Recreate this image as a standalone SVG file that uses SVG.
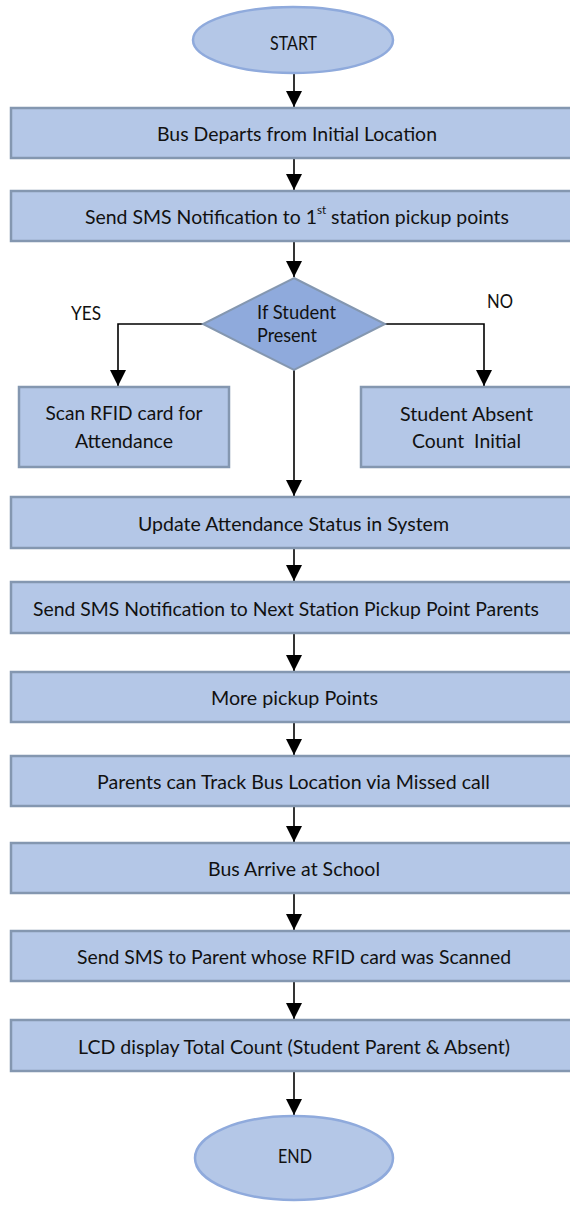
<svg xmlns="http://www.w3.org/2000/svg" width="570" height="1207" viewBox="0 0 570 1207">
<style>
.box{fill:#B4C7E7;stroke:#8497B0;stroke-width:2.5}
.term{fill:#B4C7E7;stroke:#8FAADC;stroke-width:2.5}
.dec{fill:#8FAADC;stroke:#8497B0;stroke-width:2}
.t{font-family:Lato,"Open Sans",sans-serif;font-size:20px;fill:#111;text-anchor:middle;dominant-baseline:central}
.tl{font-family:Lato,"Open Sans",sans-serif;font-size:20px;fill:#111;dominant-baseline:central}
.c{fill:none;stroke:#000;stroke-width:1.6}
</style>
<defs>
<marker id="ah" markerUnits="userSpaceOnUse" markerWidth="16" markerHeight="17" refX="16" refY="8" orient="auto">
<path d="M0,0 L16,8 L0,16 Z" fill="#000"/>
</marker>
</defs>
<g id="connectors">
<path class="c" d="M294,73 V107" marker-end="url(#ah)"/>
<path class="c" d="M294,159 V190" marker-end="url(#ah)"/>
<path class="c" d="M294,242 V277" marker-end="url(#ah)"/>
<path class="c" d="M203,324 H118 V386" marker-end="url(#ah)"/>
<path class="c" d="M385,324 H484 V386" marker-end="url(#ah)"/>
<path class="c" d="M294,370 V496" marker-end="url(#ah)"/>
<path class="c" d="M294,549 V581" marker-end="url(#ah)"/>
<path class="c" d="M294,634 V671" marker-end="url(#ah)"/>
<path class="c" d="M294,723 V755" marker-end="url(#ah)"/>
<path class="c" d="M294,807 V842" marker-end="url(#ah)"/>
<path class="c" d="M294,894 V930" marker-end="url(#ah)"/>
<path class="c" d="M294,982 V1019" marker-end="url(#ah)"/>
<path class="c" d="M294,1072 V1115" marker-end="url(#ah)"/>
<text class="t" x="86" y="312" textLength="30" lengthAdjust="spacingAndGlyphs">YES</text>
<text class="t" x="500" y="300" textLength="26" lengthAdjust="spacingAndGlyphs">NO</text>
</g>
<g id="start">
<ellipse class="term" cx="293" cy="40" rx="100" ry="33"/>
<text class="t" x="293.5" y="42" textLength="47" lengthAdjust="spacingAndGlyphs">START</text>
</g>
<g id="n1">
<rect class="box" x="11" y="108" width="570" height="50"/>
<text class="t" x="297" y="133" textLength="280" lengthAdjust="spacingAndGlyphs">Bus Departs from Initial Location</text>
</g>
<g id="n2">
<rect class="box" x="11" y="191" width="570" height="50"/>
<text class="tl" x="85" y="216" textLength="424" lengthAdjust="spacingAndGlyphs">Send SMS Notification to 1<tspan font-size="12" dy="-7">st</tspan><tspan dy="7"> station pickup points</tspan></text>
</g>
<g id="decision">
<polygon class="dec" points="294,278 385,324 294,370 203,324"/>
<text class="tl" x="257" y="311" textLength="79" lengthAdjust="spacingAndGlyphs">If Student</text>
<text class="tl" x="257" y="334" textLength="60" lengthAdjust="spacingAndGlyphs">Present</text>
</g>
<g id="scan">
<rect class="box" x="19" y="387" width="210" height="80"/>
<text class="t" x="124" y="412" textLength="157" lengthAdjust="spacingAndGlyphs">Scan RFID card for</text>
<text class="t" x="124" y="440" textLength="98" lengthAdjust="spacingAndGlyphs">Attendance</text>
</g>
<g id="absent">
<rect class="box" x="361" y="387" width="215" height="80"/>
<text class="t" x="466.5" y="413" textLength="133" lengthAdjust="spacingAndGlyphs">Student Absent</text>
<text class="t" x="466.5" y="440" textLength="109" lengthAdjust="spacingAndGlyphs" xml:space="preserve">Count  Initial</text>
</g>
<g id="n3">
<rect class="box" x="11" y="497" width="570" height="51"/>
<text class="t" x="293.5" y="522.5" textLength="311" lengthAdjust="spacingAndGlyphs">Update Attendance Status in System</text>
</g>
<g id="n4">
<rect class="box" x="11" y="582" width="570" height="51"/>
<text class="t" x="286" y="607.5" textLength="506" lengthAdjust="spacingAndGlyphs">Send SMS Notification to Next Station Pickup Point Parents</text>
</g>
<g id="n5">
<rect class="box" x="11" y="672" width="570" height="50"/>
<text class="t" x="294.5" y="697" textLength="167" lengthAdjust="spacingAndGlyphs">More pickup Points</text>
</g>
<g id="n6">
<rect class="box" x="11" y="756" width="570" height="50"/>
<text class="t" x="293.5" y="781" textLength="393" lengthAdjust="spacingAndGlyphs">Parents can Track Bus Location via Missed call</text>
</g>
<g id="n7">
<rect class="box" x="11" y="843" width="570" height="50"/>
<text class="t" x="294" y="868" textLength="172" lengthAdjust="spacingAndGlyphs">Bus Arrive at School</text>
</g>
<g id="n8">
<rect class="box" x="11" y="931" width="570" height="50"/>
<text class="t" x="294" y="956" textLength="434" lengthAdjust="spacingAndGlyphs">Send SMS to Parent whose RFID card was Scanned</text>
</g>
<g id="n9">
<rect class="box" x="11" y="1020" width="570" height="51"/>
<text class="t" x="294" y="1045.5" textLength="432" lengthAdjust="spacingAndGlyphs">LCD display Total Count (Student Parent &amp; Absent)</text>
</g>
<g id="end">
<ellipse class="term" cx="294" cy="1158" rx="99" ry="42"/>
<text class="t" x="295" y="1155" textLength="34" lengthAdjust="spacingAndGlyphs">END</text>
</g>
</svg>
